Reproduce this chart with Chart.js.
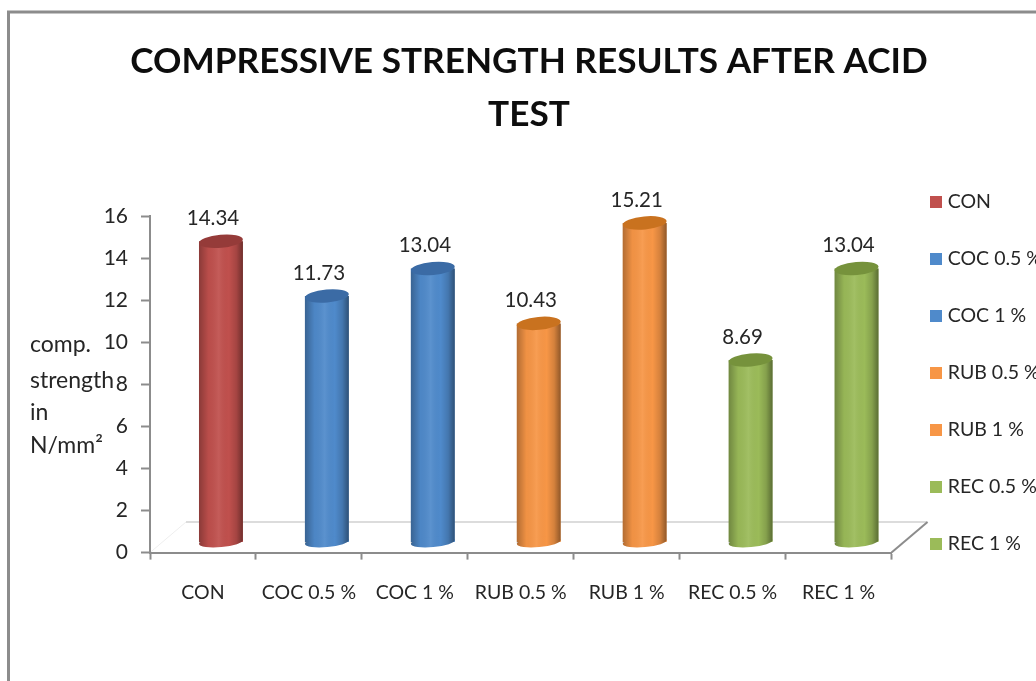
<!DOCTYPE html>
<html><head><meta charset="utf-8">
<style>html,body{margin:0;padding:0;background:#fff;overflow:hidden}#w{width:1036px;height:681px;position:relative}#c{filter:blur(0.45px)}</style>
<script src="https://cdn.jsdelivr.net/npm/chart.js@4"></script>
</head><body><div id="w"><canvas id="c" width="1036" height="681"></canvas></div>
<script>
const titleLines = ['COMPRESSIVE STRENGTH RESULTS AFTER ACID', 'TEST'];
const categories = ['CON','COC 0.5 %','COC 1 %','RUB 0.5 %','RUB 1 %','REC 0.5 %','REC 1 %'];
const strengthValues = [14.34,11.73,13.04,10.43,15.21,8.69,13.04];
const valueLabels = ['14.34','11.73','13.04','10.43','15.21','8.69','13.04'];
const barColors = ['#c0504d','#4f8acb','#4f8acb','#f79646','#f79646','#9bbb59','#9bbb59'];
const capColors = ['#953b39','#3b6ba5','#3b6ba5','#c9721f','#c9721f','#76923c','#76923c'];
const axisTitleLines = ['comp.','strength','in','N/mm²'];
const FONT = 'Lato';
const DX = 18, DY = -10;

const frame = {
  id:'frame',
  beforeDraw(chart){
    const c = chart.ctx;
    c.save();
    c.strokeStyle = '#8c8c8c'; c.lineWidth = 3;
    c.beginPath(); c.moveTo(8.5,690); c.lineTo(8.5,12); c.lineTo(1045,12); c.stroke();
    const a = chart.chartArea;
    c.lineWidth = 2; c.strokeStyle = '#dcdcdc';
    c.beginPath(); c.moveTo(a.left+36,522); c.lineTo(a.right+36,522); c.stroke();
    c.lineWidth = 1; c.strokeStyle = '#eeeeee';
    c.beginPath(); c.moveTo(a.left,a.bottom); c.lineTo(a.left+36,522); c.stroke();
    c.lineWidth = 2; c.strokeStyle = '#8c8c8c';
    c.beginPath(); c.moveTo(a.right,a.bottom); c.lineTo(a.right+36,522); c.stroke();
    c.restore();
  },
  beforeDatasetDraw(chart){ chart.ctx.save(); chart.ctx.translate(DX,DY); },
  afterDatasetDraw(chart,args){
    const c = chart.ctx;
    args.meta.data.forEach((b,i)=>{
      const w=b.width, l=b.x-w/2, r=b.x+w/2, t=b.y, bt=b.base, rx=w/2;
      c.fillStyle = barColors[i];
      c.beginPath(); c.ellipse(b.x,bt,rx,5,-0.09,0,Math.PI*2); c.fill();
      const g=c.createLinearGradient(l,0,r,0);
      g.addColorStop(0,'rgba(0,0,0,.28)');g.addColorStop(.22,'rgba(0,0,0,.03)');
      g.addColorStop(.45,'rgba(255,255,255,.07)');g.addColorStop(.68,'rgba(0,0,0,0)');g.addColorStop(.85,'rgba(0,0,0,.14)');g.addColorStop(1,'rgba(0,0,0,.42)');
      c.fillStyle=g;
      c.beginPath(); c.moveTo(l,t); c.lineTo(l,bt); c.ellipse(b.x,bt,rx,5,-0.09,Math.PI,0,true); c.lineTo(r,t); c.closePath(); c.fill();
      c.fillStyle = capColors[i];
      c.beginPath(); c.ellipse(b.x,t,rx,6.5,-0.09,0,Math.PI*2); c.fill();
    });
    c.restore();
    c.save();
    c.fillStyle='#262626'; c.font='20.5px '+FONT; c.textAlign='center'; c.textBaseline='middle';
    args.meta.data.forEach((b,i)=>{ c.fillText(valueLabels[i], b.x+10, b.y-33); });
    c.restore();
  },
  afterDraw(chart){
    const c = chart.ctx;
    c.save(); c.fillStyle='#262626'; c.font='23px '+FONT; c.textAlign='left'; c.textBaseline='middle';
    [345,381,413,446].forEach((y,i)=>c.fillText(axisTitleLines[i],30,y));
    c.restore();
  }
};
const legendPlace = { id:'legendPlace', beforeDraw(chart){ const l=chart.legend; l.left=896.5; l.top=154.75; l.right=1036; l.bottom=681; } };

new Chart(document.getElementById('c'),{
  type:'bar',
  data:{labels:categories,datasets:[{data:strengthValues,backgroundColor:barColors,borderWidth:0,barPercentage:0.415,categoryPercentage:1}]},
  plugins:[frame,legendPlace],
  options:{
    responsive:false,animation:false,devicePixelRatio:1,
    layout:{padding:{left:11,right:-11,top:0,bottom:56}},
    plugins:{
      tooltip:{enabled:false},
      title:{display:true,text:titleLines,color:'#0d0d0d',font:{family:FONT,size:35.2,weight:'bold',lineHeight:1.51},padding:{top:35,bottom:75}},
      legend:{display:true,position:'right',align:'start',
        labels:{boxWidth:4,boxHeight:4,padding:37.5,color:'#262626',font:{family:FONT,size:19.5},
          generateLabels:()=>categories.map((t,i)=>({text:t,fillStyle:barColors[i],strokeStyle:barColors[i],lineWidth:8,index:i,fontColor:'#262626'}))}}
    },
    scales:{
      x:{grid:{display:true,drawOnChartArea:false,tickLength:7,tickColor:'#8c8c8c',tickWidth:2,offset:true},border:{color:'#8c8c8c',width:2},
         ticks:{color:'#262626',font:{family:FONT,size:19.5},padding:21,maxRotation:0,autoSkip:false}},
      y:{min:0,max:16,afterFit(s){s.width=139;},grid:{display:true,drawOnChartArea:false,tickLength:9,tickColor:'#8c8c8c',tickWidth:2},border:{color:'#8c8c8c',width:2},
         ticks:{stepSize:2,color:'#262626',font:{family:FONT,size:21},padding:13}}
    }
  }
});
</script></body></html>
